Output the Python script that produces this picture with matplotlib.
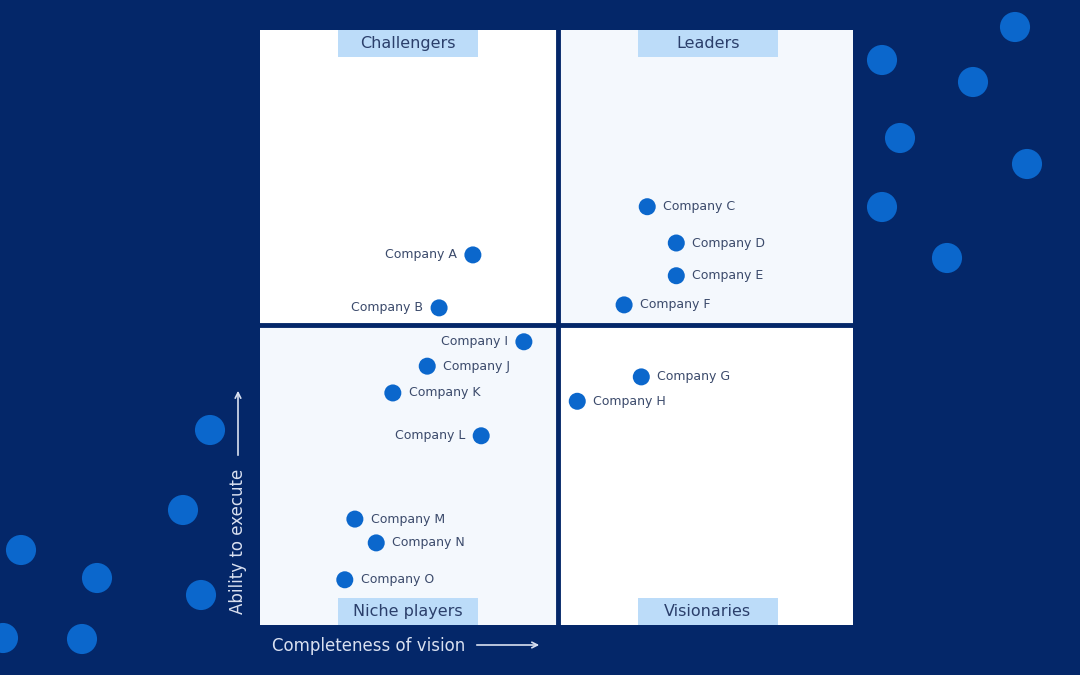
import matplotlib.pyplot as plt
from matplotlib.patches import Rectangle

# companies (x = completeness of vision, y = ability to execute, 0..1)
companies = ["Company A", "Company B", "Company C", "Company D", "Company E",
             "Company F", "Company G", "Company H", "Company I", "Company J",
             "Company K", "Company L", "Company M", "Company N", "Company O"]
vision = [0.359, 0.302, 0.653, 0.702, 0.702, 0.614, 0.643, 0.535,
          0.445, 0.282, 0.224, 0.373, 0.160, 0.196, 0.143]
execute = [0.622, 0.533, 0.703, 0.642, 0.587, 0.538, 0.417, 0.376,
           0.476, 0.435, 0.390, 0.318, 0.178, 0.138, 0.076]
label_side = ["left", "left", "right", "right", "right", "right", "right", "right",
              "left", "right", "right", "left", "right", "right", "right"]

quadrants = ["Challengers", "Leaders", "Niche players", "Visionaries"]

# decorative background dots (figure pixels)
deco_x = [1015, 882, 973, 900, 1027, 882, 947, 210, 183, 21, 97, 201, 3, 82]
deco_y = [27, 60, 82, 138, 164, 207, 258, 430, 510, 550, 578, 595, 638, 639]

navy = "#042769"
dot = "#0b67cc"
label_col = "#3b4a6b"

fig = plt.figure(figsize=(10.8, 6.75), dpi=100)
fig.patch.set_facecolor(navy)

bg = fig.add_axes([0, 0, 1, 1])
bg.set_xlim(0, 1080)
bg.set_ylim(675, 0)
bg.axis("off")
bg.scatter(deco_x, deco_y, s=470, color=dot, edgecolors="none", zorder=1)

ax = fig.add_axes([260 / 1080, 50 / 675, 593 / 1080, 595 / 675])
ax.set_xlim(0, 1)
ax.set_ylim(0, 1)
ax.axis("off")

# quadrant panels
panel_colors = {(0, 1): "white", (1, 1): "#f4f8fd", (0, 0): "#f4f8fd", (1, 0): "white"}
for (i, j), c in panel_colors.items():
    ax.add_patch(Rectangle((i * 0.5, j * 0.5), 0.5, 0.5, facecolor=c,
                           edgecolor="none", zorder=0))
ax.axvline(0.5025, color=navy, lw=3.5, zorder=1)
ax.axhline(0.504, color=navy, lw=3.5, zorder=1)

# quadrant title boxes
box_w, box_h = 140 / 593, 27 / 595
title_pos = [(0.25, 1 - box_h), (0.755, 1 - box_h), (0.25, 0), (0.755, 0)]
for name, (cx, y0) in zip(quadrants, title_pos):
    ax.add_patch(Rectangle((cx - box_w / 2, y0), box_w, box_h,
                           facecolor="#bcdcf9", edgecolor="none", zorder=2))
    ax.text(cx, y0 + box_h / 2, name, ha="center", va="center",
            fontsize=11.5, color="#2b3f6b", zorder=3)

ax.scatter(vision, execute, s=150, color=dot, edgecolors="none", zorder=4)
for name, x, y, side in zip(companies, vision, execute, label_side):
    off = 0.027 if side == "right" else -0.027
    ax.text(x + off, y, name, ha="left" if side == "right" else "right",
            va="center", fontsize=9, color=label_col, zorder=5)

# axis titles with arrows
fig.text(272 / 1080, 1 - 646 / 675, "Completeness of vision", ha="left",
         va="center", fontsize=12, color="#d9e0f0")
bg.annotate("", xy=(542, 645), xytext=(474, 645),
            arrowprops=dict(arrowstyle="->", color="#d9e0f0", lw=1.2))
fig.text(238 / 1080, 1 - 541 / 675, "Ability to execute", rotation=90,
         ha="center", va="center", fontsize=12, color="#d9e0f0")
bg.annotate("", xy=(238, 388), xytext=(238, 458),
            arrowprops=dict(arrowstyle="->", color="#d9e0f0", lw=1.2))

fig.savefig("out.png", dpi=100, facecolor=fig.get_facecolor())
